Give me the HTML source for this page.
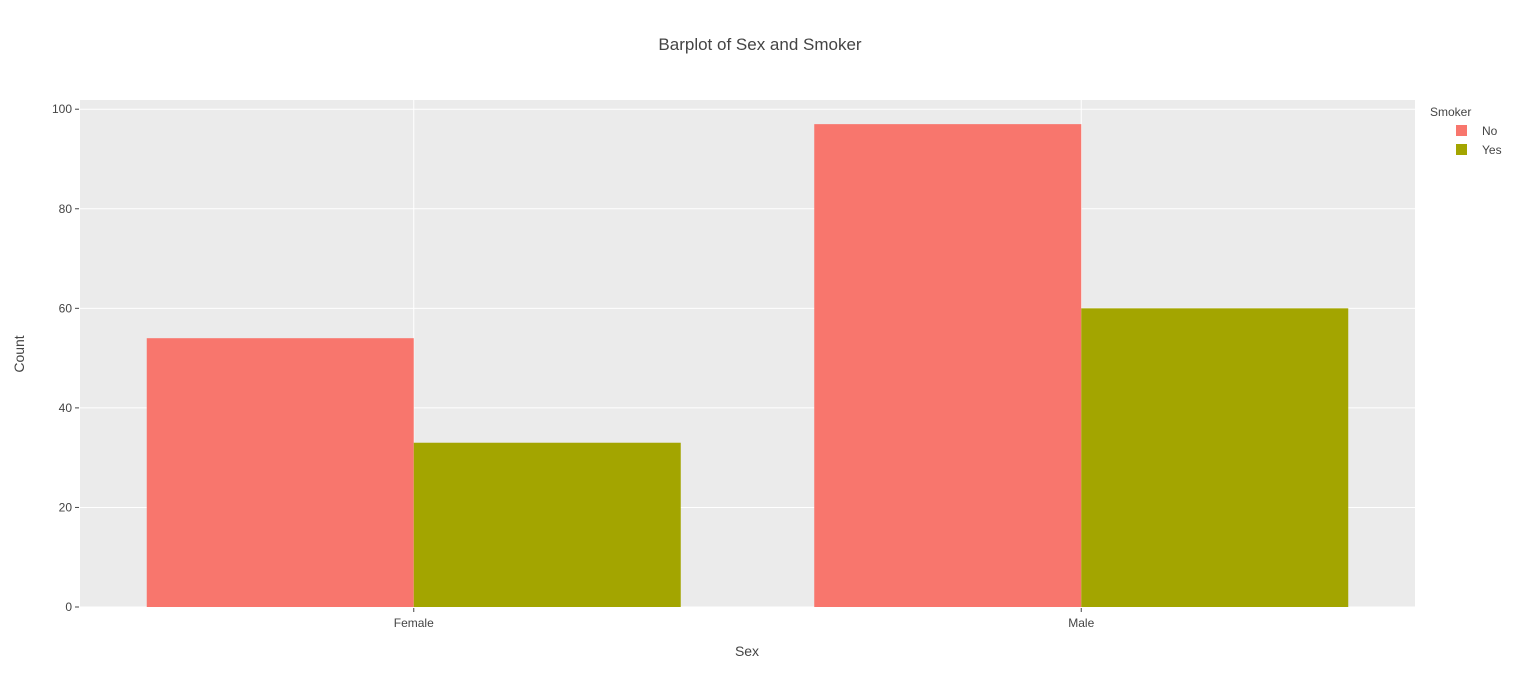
<!DOCTYPE html>
<html><head><meta charset="utf-8"><style>
body{margin:0;background:#fff;}
svg text{font-family:"Liberation Sans",sans-serif;}
</style></head><body>
<svg id="chart" width="1520" height="688" xmlns="http://www.w3.org/2000/svg">
<rect width="1520" height="688" fill="#fff"/>
<text x="760" y="50" text-anchor="middle" font-size="17" fill="#444">Barplot of Sex and Smoker</text>
<rect x="80" y="100" width="1335" height="507" fill="#EBEBEB"/>
<g id="grid"></g>
<g id="bars"></g>
<g id="axes"></g>
<text x="747" y="656" text-anchor="middle" font-size="14" fill="#444">Sex</text>
<text transform="translate(24,354) rotate(-90)" text-anchor="middle" font-size="14" fill="#444">Count</text>
<g>
<text x="1430" y="116" font-size="12" fill="#444">Smoker</text>
<g><rect x="1456" y="125" width="11" height="11" fill="#F8766D"/><text x="1482" y="135" font-size="12" fill="#444">No</text></g>
<g><rect x="1456" y="144" width="11" height="11" fill="#A3A500"/><text x="1482" y="154" font-size="12" fill="#444">Yes</text></g>
</g>
</svg>
<script>
const categories = ["Female","Male"];
const seriesNo = [54, 97];
const seriesYes = [33, 60];
const yTicks = [0,20,40,60,80,100];
const NS="http://www.w3.org/2000/svg";
const L=80,R=1415,T=100,B=607,yMax=101.85;
const y=v=>B-(v/yMax)*(B-T);
const bw=(R-L)/categories.length;
const xc=i=>L+bw*(i+0.5);
function mk(tag,attrs,parent){const e=document.createElementNS(NS,tag);for(const k in attrs)e.setAttribute(k,attrs[k]);parent.appendChild(e);return e;}
const grid=document.getElementById('grid'),bars=document.getElementById('bars'),axes=document.getElementById('axes');
yTicks.forEach(t=>{
  const l=mk('line',{x1:L,x2:R,y1:y(t),y2:y(t),stroke:'#fff','stroke-width':1},grid);
  
  
  const tk=mk('line',{x1:75,x2:79,y1:y(t),y2:y(t),stroke:'#444'},axes);
  
  
  const tx=mk('text',{x:72,y:y(t)+4,'text-anchor':'end','font-size':12,fill:'#444'},axes);
  tx.textContent=t;
  
  
});
categories.forEach((c,i)=>{
  const g=mk('line',{x1:xc(i),x2:xc(i),y1:T,y2:B,stroke:'#fff'},grid);
  
  
  const w=bw*0.8/2;
  const b1=mk('rect',{x:xc(i)-w,y:y(seriesNo[i]),width:w,height:B-y(seriesNo[i]),fill:'#F8766D'},bars);
  
  
  const b2=mk('rect',{x:xc(i),y:y(seriesYes[i]),width:w,height:B-y(seriesYes[i]),fill:'#A3A500'},bars);
  
  
  const tk=mk('line',{x1:xc(i),x2:xc(i),y1:608,y2:612,stroke:'#444'},axes);
  
  
  const tx=mk('text',{x:xc(i),y:627,'text-anchor':'middle','font-size':12,fill:'#444'},axes);
  tx.textContent=c;
  
  
});
</script>
</body></html>
